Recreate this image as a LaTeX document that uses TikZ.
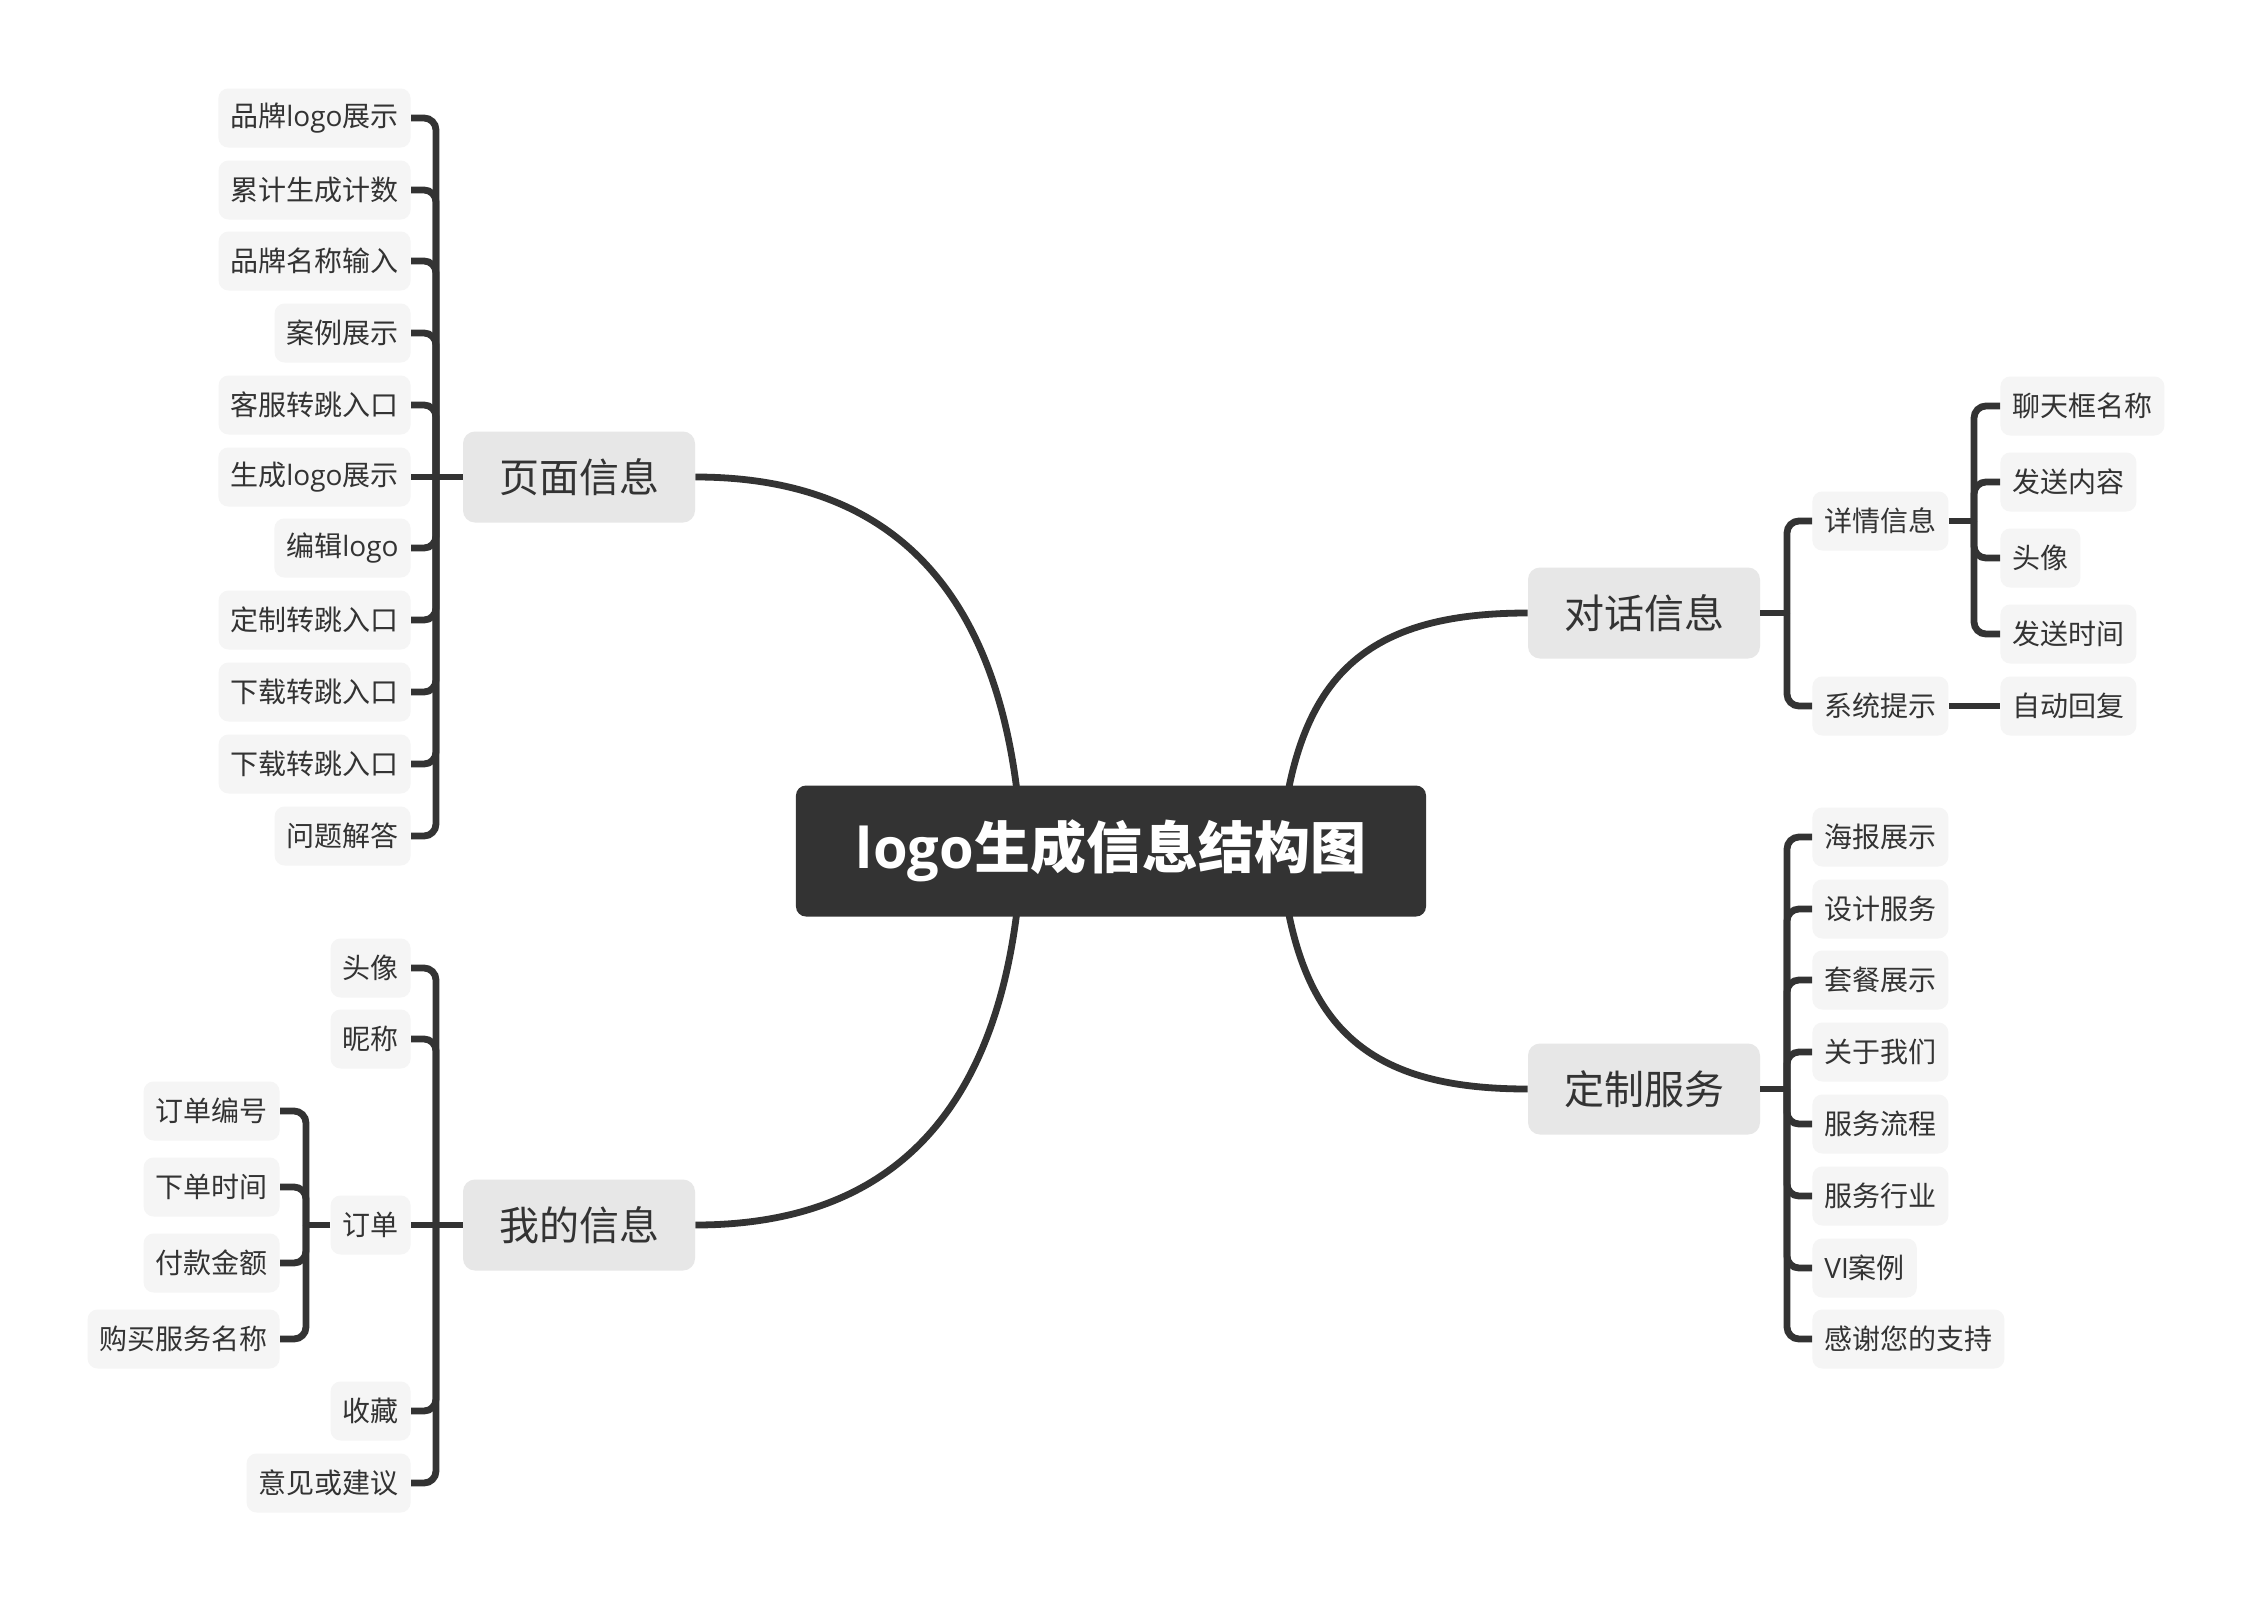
\documentclass[tikz,border=0pt]{standalone}
\usepackage{fontspec}
\setmainfont{Noto Sans CJK SC}
\newfontfamily\lat{Open Sans}
\usetikzlibrary{calc,backgrounds}
\definecolor{ink}{HTML}{333333}
\definecolor{leafbg}{HTML}{F5F5F5}
\definecolor{topicbg}{HTML}{E7E7E7}
\begin{document}
\begin{tikzpicture}[x=0.5pt,y=-0.5pt,
  conn/.style={draw=ink,line width=3.4pt},
  bus/.style={conn,rounded corners=6pt},
  leaf/.style={fill=leafbg,rounded corners=5pt,text=ink,font=\fontsize{14pt}{16pt}\selectfont,inner xsep=6pt,inner ysep=0pt,minimum height=29.5pt},
  topic/.style={fill=topicbg,rounded corners=6pt,text=ink,font=\fontsize{20pt}{24pt}\selectfont,inner xsep=18pt,inner ysep=0pt,minimum height=45.5pt},
  rootnode/.style={fill=ink,rounded corners=5pt,text=white,font=\fontsize{28pt}{32pt}\selectfont\bfseries,inner xsep=30pt,inner ysep=0pt,minimum height=65.5pt},
  L/.style={leaf,anchor=east},
  R/.style={leaf,anchor=west}]
\useasboundingbox (0,0) rectangle (2251,1601);

% main nodes
\node[rootnode] (root) at (1111,851) {{\lat logo}生成信息结构图};
\node[topic] (pg) at (579,477) {页面信息};
\node[topic] (my) at (579,1225) {我的信息};
\node[topic] (dh) at (1644,613) {对话信息};
\node[topic] (dz) at (1644,1089) {定制服务};

% junctions
\coordinate (pgj) at (436,477);
\coordinate (myj) at (436,1225);
\coordinate (ddj) at (306,1225);
\coordinate (dhj) at (1787,613);
\coordinate (xqj) at (1974,521);
\coordinate (dzj) at (1787,1089);

\begin{scope}[on background layer]
\fill[white] (0,0) rectangle (2251,1601);
\draw[conn] ($(root.center)+(-89,0)$) .. controls (1010,600) and (900,477) .. (pg.east);
\draw[conn] ($(root.center)+(-89,0)$) .. controls (1010,1102) and (900,1225) .. (my.east);
\draw[conn] ($(root.center)+(169,0)$) .. controls (1295,680) and (1360,613) .. (dh.west);
\draw[conn] ($(root.center)+(169,0)$) .. controls (1295,1022) and (1360,1089) .. (dz.west);
\end{scope}

% 页面信息
\draw[conn] (pg.west) -- (pgj);
\foreach \n/\y/\t in {p1/118/品牌{\lat logo}展示, p2/190/累计生成计数, p3/261/品牌名称输入, p4/333/案例展示, p5/405/客服转跳入口, p7/548/编辑{\lat logo}, p8/620/定制转跳入口, p9/692/下载转跳入口, p10/764/下载转跳入口, p11/836/问题解答}{
  \node[L] (\n) at (411,\y) {\t};
  \draw[bus] (pgj) |- (\n.east);
}
\node[L] (p6) at (411,477) {生成{\lat logo}展示};
\draw[conn] (pgj) -- (p6.east);

% 我的信息
\draw[conn] (my.west) -- (myj);
\foreach \n/\y/\t in {m1/968/头像, m2/1039/昵称, m4/1411/收藏, m5/1483/意见或建议}{
  \node[L] (\n) at (411,\y) {\t};
  \draw[bus] (myj) |- (\n.east);
}
\node[L] (m3) at (411,1225) {订单};
\draw[conn] (myj) -- (m3.east);
\draw[conn] (m3.west) -- (ddj);
\foreach \n/\y/\t in {d1/1111/订单编号, d2/1187/下单时间, d3/1263/付款金额, d4/1339/购买服务名称}{
  \node[L] (\n) at (280,\y) {\t};
  \draw[bus] (ddj) |- (\n.east);
}

% 对话信息
\draw[conn] (dh.east) -- (dhj);
\node[R] (h1) at (1812,521) {详情信息};
\node[R] (h2) at (1812,706) {系统提示};
\draw[bus] (dhj) |- (h1.west);
\draw[bus] (dhj) |- (h2.west);
\draw[conn] (h1.east) -- (xqj);
\foreach \n/\y/\t in {x1/406/聊天框名称, x2/482/发送内容, x3/558/头像, x4/634/发送时间}{
  \node[R] (\n) at (2000,\y) {\t};
  \draw[bus] (xqj) |- (\n.west);
}
\node[R] (z1) at (2000,706) {自动回复};
\draw[conn] (h2.east) -- (z1.west);

% 定制服务
\draw[conn] (dz.east) -- (dzj);
\foreach \n/\y/\t in {s1/837/海报展示, s2/909/设计服务, s3/980/套餐展示, s4/1052/关于我们, s5/1124/服务流程, s6/1196/服务行业, s7/1268/{\lat VI}案例, s8/1339/感谢您的支持}{
  \node[R] (\n) at (1812,\y) {\t};
  \draw[bus] (dzj) |- (\n.west);
}
\end{tikzpicture}
\end{document}
